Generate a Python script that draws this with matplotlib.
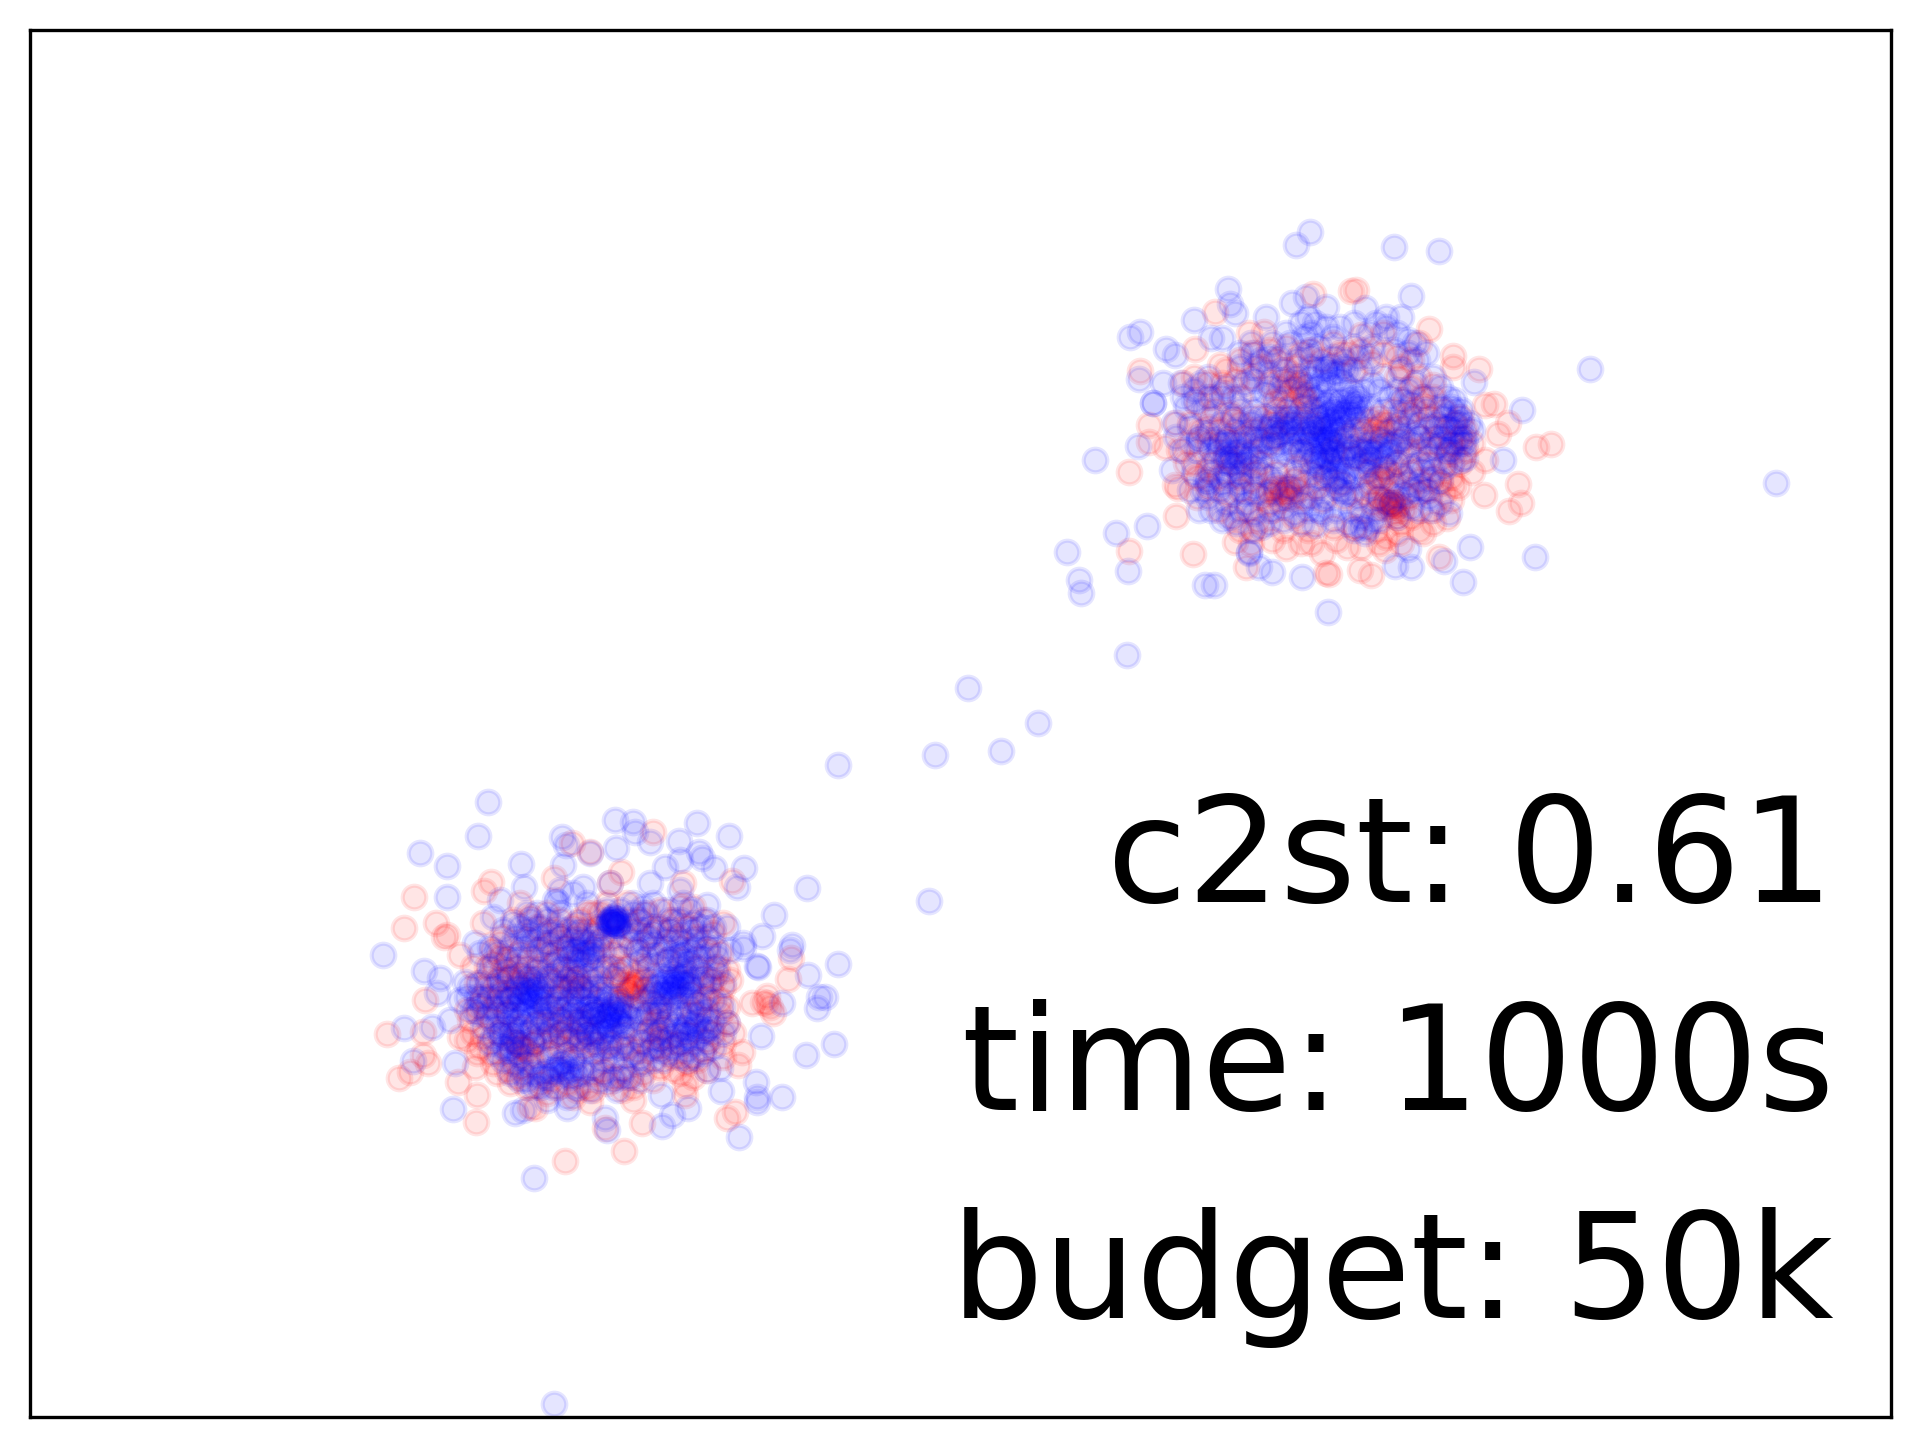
import matplotlib
matplotlib.use('Agg')
import matplotlib.pyplot as plt
import numpy as np

# no ticks on the chart, so the unit is the pixel of the reference
# upper blob values read from a crop, scale (2.8, 3), offset (1040, 210)
upper_red = [
    (490,305),(885,240),(870,243),(765,252),(1088,356),(435,417),(1155,437),(1157,472),(1230,476),(280,483),
    (505,465),(1100,525),(1270,582),(1245,585),(1310,640),(1282,672),(1388,710),(1430,702),(305,645),(305,695),
    (248,785),(378,825),(385,835),(382,918),(248,1023),(428,1032),(1337,823),(1243,855),(1347,880),(1313,902),
    (1155,825),(1150,870),(1210,785),(1245,750),(1140,925),(1072,970),(1118,1040),(800,1090),(810,1093),(895,1080),
    (928,1095),(578,1072),(545,995),(690,1015),(965,1020),(585,370),(628,365),(900,375),(1000,440),(1060,400),
    (985,885),(990,880),(975,895),(1000,920),(965,870),(960,800),(975,790),(945,650),(955,640),(925,630),
    (690,840),(700,850),(675,835),(660,850),(710,500),(735,560),(725,520),(680,560),(700,590),(660,600),
    (1070,560),(1040,530),(1090,620),(1060,680),(1100,800),(1130,760),(350,710),(470,780),(520,850),(610,930),
    (710,920),(830,990),(860,1010),(970,980),(1010,940),(400,520),(450,660),(540,630),(600,790),(770,830),
    (880,480),(840,820),(920,780),(1000,760),(1010,690),(990,600),(560,560),(640,700),(720,770),(1150,700),
    (380,640),(440,860),(650,900),(750,960),(900,900),(1060,850),(1180,620),(820,400),(960,370),(1040,450),
    # second pass over the inner part
    (980,880),(995,890),(985,870),(970,880),(1005,885),(990,905),(960,890),(1015,900),(945,860),(950,815),
    (965,775),(985,810),(1005,790),(940,800),(925,820),(695,830),(705,865),(680,850),(720,840),(655,830),
    (670,870),(640,840),(710,810),(730,545),(745,570),(715,530),(695,515),(670,530),(750,590),(655,575),
    (690,480),(720,470),(935,660),(960,665),(945,620),(975,640),(910,660),(1000,650),(1030,610),(1075,590),
    (1110,650),(1140,730),(1090,760),(1060,720),(1040,790),(1085,840),(1120,820),(1150,800),(1175,760),(1190,720),
    (560,640),(530,610),(500,660),(470,700),(500,800),(440,800),(410,760),(480,560),(430,500),(520,480),
    (560,450),(640,420),(690,410),(760,420),(860,430),(930,460),(1000,500),(620,860),(580,900),(540,920),
    (600,960),(680,960),(760,1000),(820,950),(880,950),(940,960),(1000,970),(1040,920),(1100,900),(620,760),
    (660,790),(730,720),(760,790),(800,800),(880,740),(920,720),(860,680),(600,660),(580,730),(540,760),
    # third pass, filling the gaps
    (590,430),(620,470),(660,450),(730,430),(790,450),(840,430),(900,420),(960,430),(1010,470),(1060,500),
    (1100,560),(1130,600),(1160,640),(1190,660),(1210,700),(470,520),(510,520),(550,510),(590,500),(640,520),
    (440,580),(490,600),(420,640),(470,650),(520,690),(570,680),(610,620),(650,640),(1020,570),(1050,600),
    (1120,680),(1090,700),(1160,730),(1030,720),(1060,810),(1130,850),(1170,830),(1100,940),(1060,960),(1010,1000),
    (950,1000),(900,1010),(790,1030),(730,1000),(650,990),(590,1000),(560,960),(500,900),(470,830),(430,760),
    (390,720),(420,700),(560,840),(590,810),(640,880),(740,860),(790,870),(850,860),(910,850),(930,880),
    (1030,860),(820,720),(880,660),(760,640),(700,640),(660,680),(560,800),(520,740),(480,760),(1180,680),
]
upper_blue = [
    (757,67),(717,106),(992,111),(1118,123),(527,238),(1040,258),(705,278),(745,262),(532,283),(545,310),
    (430,330),(280,366),(252,380),(633,320),(1540,478),(352,418),(378,436),(1350,600),(278,508),(315,578),
    (315,578),(1215,515),(275,708),(155,750),(370,780),(1295,750),(300,948),(212,968),(76,1025),(245,1083),
    (110,1110),(115,1150),(462,1125),(488,1125),(807,1205),(1185,1117),(1205,1010),(1387,1040),(1130,1052),(1040,1070),
    (995,1068),(733,1100),(650,1085),(612,1072),(585,1030),(585,1025),(1030,1018),(1145,908),(1095,900),(445,900),
    (970,320),(1010,320),(800,290),(910,295),(750,320),(730,340),(480,385),(510,385),(590,400),(640,440),
    (760,370),(820,380),(920,370),(970,350),(1050,400),(1055,450),(820,440),(620,450),(510,550),(510,560),
    (570,520),(450,520),(395,520),(345,520),(375,640),(445,680),(445,690),(380,680),(520,700),(560,700),
    (530,760),(520,790),(465,810),(455,840),(575,850),(580,880),(530,920),(600,910),(710,910),(770,945),
    (900,950),(915,955),(1000,920),(1045,840),(1090,860),(1190,745),(1160,570),(1160,600),(1165,640),(1170,680),
    (1210,660),(1140,650),(1075,560),(1120,700),(1060,760),(1020,800),(960,500),(1000,540),(920,440),(860,480),
    # dense centre
    (800,470),(820,490),(780,480),(840,510),(760,500),(810,520),(870,580),(880,590),(860,600),(890,560),
    (820,600),(830,620),(810,630),(840,640),(800,650),(820,660),(790,620),(850,610),(780,640),(830,590),
    (800,580),(770,600),(740,620),(710,640),(690,650),(670,670),(720,660),(650,680),(700,620),(690,600),
    (780,700),(800,720),(770,740),(790,760),(810,750),(830,730),(760,720),(740,750),(820,770),(800,700),
    (750,700),(780,680),(840,690),(810,690),(860,710),(830,800),(850,820),(860,780),(840,840),(870,850),
    (900,720),(930,730),(950,710),(960,740),(920,700),(910,750),(890,740),(970,700),(940,680),(980,720),
    (540,700),(560,740),(520,730),(500,720),(590,680),(620,690),(640,660),(600,720),(490,690),(545,660),
    (700,700),(660,740),(680,780),(640,800),(720,800),(700,540),(660,560),(750,550),(900,620),(960,600),
    (1020,650),(1040,700),(1100,680),(1130,620),(1180,700),(1010,730),(600,600),(560,600),(480,620),(640,850),
    (760,860),(880,800),(930,930),(910,970),(480,900),(520,880),(620,790),(780,830),(990,830),(1060,900),
    # second pass over the centre
    (805,610),(815,645),(795,665),(825,675),(835,605),(785,655),(845,655),(805,685),(775,625),(855,625),
    (870,610),(885,575),(865,565),(895,590),(875,545),(840,570),(815,570),(790,590),(765,650),(750,665),
    (735,640),(720,620),(705,665),(690,625),(675,640),(660,655),(645,650),(735,690),(760,680),(790,735),
    (805,745),(775,755),(760,755),(815,725),(785,775),(800,790),(825,750),(845,745),(865,730),(880,710),
    (895,700),(910,725),(925,745),(940,725),(955,690),(975,730),(990,705),(920,760),(890,770),(840,775),
    (850,800),(820,810),(830,830),(855,850),(800,480),(790,510),(815,465),(835,485),(855,525),(775,530),
    (745,525),(730,590),(765,565),(785,555),(905,540),(925,590),(880,625),(900,665),(870,680),(730,730),
    (710,720),(690,730),(670,700),(620,710),(605,690),(575,670),(555,720),(535,740),(515,755),(505,700),
    (525,680),(545,730),(490,745),(475,720),(530,800),(550,770),(580,760),(1150,590),(1170,620),(1155,660),
    (1180,640),(1130,680),(1110,710),(1090,650),(1150,720),(1190,680),(1120,590),(1140,560),(1040,620),(1060,640),
    (1010,610),(1050,670),(1000,690),(1080,720),(1070,780),(1040,770),(1100,780),(1130,770),(1180,750),(1020,850),
    (1060,830),(1090,810),(1120,880),(1000,860),(870,900),(830,900),(790,910),(750,900),(680,890),(640,900),
    (600,850),(560,820),(500,840),(470,860),(420,840),(560,900),(620,950),(900,920),(940,900),(880,960),
    (750,420),(780,410),(800,350),(740,380),(700,400),(670,440),(640,490),(600,470),(560,470),(520,530),
    (470,500),(430,540),(410,590),(470,560),(540,560),(590,540),(630,550),(880,410),(930,410),(990,420),
    (1030,430),(1010,480),(950,540),(1030,540),(680,480),(720,450),(760,440),(850,450),(890,440),(780,900),
    # third pass, filling the gaps
    (560,430),(600,430),(650,400),(690,370),(770,340),(840,350),(880,340),(940,340),(1000,370),(1030,390),
    (1080,430),(1100,500),(1120,530),(1180,600),(1200,640),(1190,700),(1150,760),(1120,810),(1080,840),(1040,890),
    (980,880),(950,930),(860,940),(820,930),(730,940),(680,930),(640,940),(590,960),(550,940),(510,930),
    (470,820),(430,790),(400,720),(420,650),(460,600),(430,570),(400,560),(600,510),(640,530),(680,510),
    (720,500),(760,470),(850,470),(900,480),(930,520),(980,560),(1040,580),(1010,570),(1080,600),(1050,520),
    (590,620),(630,620),(660,620),(620,650),(590,640),(540,620),(510,640),(470,670),(440,720),(480,790),
    (560,790),(600,770),(660,820),(700,830),(740,820),(780,800),(910,790),(960,770),(1000,760),(950,800),
    (920,830),(890,860),(950,860),(1030,820),(1090,740),(1060,680),(1140,720),(1110,640),(1130,650),(1160,700),
    (1020,680),(1000,640),(980,660),(850,730),(820,700),(790,690),(770,670),(740,670),(710,690),(680,670),
    (650,710),(620,740),(590,740),(560,760),(510,820),(540,850),(600,830),(690,860),(730,880),(800,860),
]
lower_red = [
    (880,157),(635,190),(690,215),(782,277),(582,295),(392,305),(372,333),(163,350),(133,445),(228,430),
    (262,465),(252,470),(300,525),(82,763),(188,755),(205,850),(190,825),(150,875),(118,895),(295,905),
    (352,945),(348,1027),(345,860),(320,780),(195,660),(1115,303),(1090,430),(1292,533),(1285,597),(1175,670),
    (1222,648),(1210,665),(1238,700),(975,915),(975,945),(1125,995),(1100,1015),(845,1030),(820,960),(735,1043),
    (792,1113),(615,1143),(525,985),(690,965),(1135,855),(1145,815),(1090,790),(1080,660),(1220,670),(1230,680),
    (820,620),(815,625),(825,610),(810,615),(830,600),(800,630),(490,805),(480,800),(500,810),(445,595),
    (460,590),(420,530),(400,550),(880,730),(640,600),(650,590),(600,620),(720,480),(700,400),(860,400),
    (940,420),(970,310),(750,310),(480,370),(370,430),(430,470),(340,560),(300,770),(390,820),(410,880),
    (620,780),(600,760),(540,780),(700,880),(730,870),(800,890),(870,810),(940,830),(1010,840),(1040,650),
    (1060,600),(1100,570),(1090,620),(1040,780),(580,450),(620,500),(500,560),(560,680),(680,620),(770,600),
    (850,560),(900,680),(960,790),(440,700),(380,620),(650,930),(560,940),(510,980),(980,440),(1000,380),
    (760,520),(630,700),(790,760),(700,790),(450,820),(1000,700),(1120,760),(660,420),(450,910),(830,850),
    # second pass over the inner part
    (835,585),(805,640),(790,610),(850,630),(825,650),(775,580),(855,600),(470,790),(510,825),(455,780),
    (520,790),(430,570),(470,610),(410,600),(440,540),(395,510),(380,560),(420,490),(890,720),(870,750),
    (905,745),(610,590),(630,620),(660,620),(620,570),(700,600),(730,560),(760,560),(800,560),(880,520),
    (680,450),(720,440),(760,470),(820,450),(890,440),(930,450),(530,440),(500,480),(480,520),(560,520),
    (540,560),(590,540),(650,780),(670,800),(720,810),(760,830),(800,800),(840,780),(900,800),(930,790),
    (980,850),(1030,810),(1060,760),(1080,700),(1070,560),(1050,620),(1020,670),(640,830),(600,800),(560,820),
    (520,850),(480,860),(440,870),(420,760),(400,720),(370,770),(350,820),(330,720),(570,900),(620,910),
    (680,920),(740,910),(790,930),(850,880),(900,860),(960,880),(370,650),(350,610),(1010,470),(1040,510),
    # third pass, filling the gaps
    (460,420),(510,410),(560,400),(600,420),(640,440),(680,400),(740,370),(800,370),(840,420),(900,390),
    (960,380),(1030,420),(1060,460),(1080,520),(1110,600),(1100,680),(1100,730),(1090,830),(1040,870),(1000,890),
    (940,870),(880,900),(820,920),(760,890),(700,930),(640,950),(590,920),(540,910),(500,920),(470,890),
    (400,850),(360,800),(340,760),(320,690),(350,680),(380,700),(410,660),(450,650),(490,590),(530,590),
    (570,600),(590,650),(560,730),(600,720),(660,720),(700,700),(740,640),(780,660),(840,700),(880,670),
    (950,680),(990,640),(1010,560),(970,540),(920,540),(830,510),(780,500),(700,520),(650,540),(600,470),
    (530,510),(470,560),(420,640),(480,740),(530,730),(580,770),(620,740),(680,760),(750,790),(830,810),
    (900,770),(980,760),(1040,720),(1030,590),(950,470),(870,470),(800,420),(720,400),(650,470),(570,490),
]
lower_blue = [
    (385,67),(355,168),(180,220),(262,258),(262,350),(70,525),(192,573),(765,120),(818,125),(825,155),
    (870,187),(605,172),(618,195),(690,220),(768,203),(1012,128),(958,183),(1107,168),(482,252),(492,322),
    (610,255),(1018,215),(1025,235),(960,240),(915,262),(1062,263),(1153,265),(1132,322),(1342,325),(1243,405),
    (1207,468),(1148,505),(1297,495),(1290,510),(1435,552),(1192,557),(1195,560),(1345,585),(1378,650),(1395,652),
    (1372,685),(1423,792),(1337,825),(1202,767),(1188,907),(1190,950),(1190,965),(1265,950),(1083,933),(1080,865),
    (1137,1072),(905,1037),(935,1005),(983,983),(903,945),(740,1050),(735,1015),(622,985),(522,1195),(465,1000),
    (490,990),(280,987),(285,850),(158,843),(133,745),(215,742),(270,720),(230,640),(315,605),(240,595),
    (345,488),(420,360),(590,365),(585,360),(1265,668),(670,320),(750,310),(870,310),(960,330),(850,380),
    (1040,375),(990,390),(1100,440),(1065,505),(1060,560),(1090,610),(1100,730),(1040,870),(980,840),(400,410),
    # small blob at the top of the cluster
    (760,425),(755,430),(765,420),(750,420),(770,435),(760,415),(745,435),(775,425),(755,410),(768,440),
    (762,428),(752,422),(758,436),(772,418),(748,428),(764,408),(742,420),(778,434),
    # dense parts
    (505,640),(515,630),(495,650),(525,650),(510,665),(490,625),(530,625),(480,660),(540,640),(500,610),
    (470,620),(520,600),(550,670),(460,680),(500,690),(540,700),(450,740),(470,750),(430,730),(480,720),
    (420,760),(460,770),(500,760),(440,700),(520,740),(410,700),(750,700),(740,720),(760,680),(730,690),
    (770,720),(720,710),(780,700),(700,700),(690,720),(680,680),(710,740),(750,750),(740,670),(770,650),
    (720,660),(660,700),(650,730),(680,760),(720,770),(790,740),(760,770),(640,690),(630,660),(810,710),
    (940,610),(950,620),(930,600),(960,630),(920,620),(950,590),(970,610),(900,640),(930,640),(980,590),
    (960,560),(910,590),(890,620),(870,650),(850,660),(990,620),(1000,560),(970,520),(940,530),(900,520),
    (990,510),(950,500),(860,530),(880,490),(830,510),(920,480),(670,520),(680,540),(650,510),(700,510),
    (660,550),(630,530),(690,490),(640,480),(610,500),(580,520),(560,490),(520,480),(490,500),(510,420),
    (530,400),(480,440),(450,500),(550,550),(590,570),(950,750),(970,760),(930,770),(1000,750),(1020,740),
    (980,730),(960,790),(920,720),(890,760),(860,750),(850,790),(880,800),(600,870),(620,860),(640,870),
    (580,880),(560,890),(600,850),(630,890),(540,890),(660,860),(500,850),(470,820),(430,800),(400,770),
    (350,650),(330,620),(300,660),(370,680),(400,620),(420,600),(390,560),(360,520),(850,400),(870,440),
    (830,420),(800,470),(660,620),(600,650),(580,700),(600,760),(820,820),(790,870),(730,840),(680,810),
    (910,840),(1000,830),(1060,800),(1060,720),(1030,650),(1070,580),(480,900),(520,920),(450,880),(690,930),
    (770,930),(810,890),(620,950),(560,960),(1020,440),(1060,440),(1000,480),(1110,510),(1150,490),(970,370),
    # second pass over the dense parts
    (512,645),(498,632),(522,612),(488,672),(535,660),(475,640),(455,655),(508,590),(548,620),(562,650),
    (445,640),(530,680),(490,700),(515,715),(470,700),(550,720),(575,680),(440,660),(425,680),(460,720),
    (745,710),(755,690),(735,705),(765,705),(725,725),(775,685),(710,690),(695,680),(685,705),(670,725),
    (745,735),(760,735),(780,725),(795,705),(730,755),(705,760),(690,775),(665,745),(640,720),(655,680),
    (780,670),(800,680),(750,650),(720,640),(700,650),(670,660),(640,640),(620,680),(610,720),(600,690),
    (945,615),(935,625),(955,605),(925,590),(965,590),(940,575),(905,610),(985,610),(975,575),(1000,600),
    (915,640),(945,650),(965,650),(880,640),(860,620),(895,665),(920,665),(880,600),(1010,530),(1025,580),
    (985,545),(955,525),(925,540),(895,555),(865,560),(840,540),(915,500),(965,485),(1005,505),(850,490),
    (670,505),(685,520),(655,525),(700,530),(640,510),(620,515),(715,495),(730,510),(670,480),(650,460),
    (600,470),(570,460),(540,440),(500,450),(465,470),(440,530),(470,540),(510,530),(540,510),(580,550),
    (610,560),(640,570),(680,590),(720,590),(740,560),(780,530),(810,490),(950,765),(975,745),(1005,735),
    (1030,755),(1015,770),(985,770),(945,735),(910,745),(900,780),(875,775),(840,720),(860,700),(890,700),
    (930,700),(960,700),(990,680),(1020,700),(1040,750),(610,880),(590,865),(625,875),(570,870),(650,885),
    (610,845),(550,875),(520,880),(490,880),(460,850),(430,840),(410,820),(390,790),(370,740),(340,690),
    (320,650),(360,610),(380,590),(420,650),(400,680),(520,790),(560,770),(580,800),(620,820),(660,790),
    (700,820),(740,800),(780,800),(800,830),(840,830),(880,840),(920,820),(960,830),(640,760),(560,720),
    (540,760),(470,790),(430,770),(450,800),(1060,660),(1070,530),(1040,470),(960,460),(900,440),(780,390),
    (740,390),(820,370),(880,370),(920,390),(710,440),(650,430),(600,400),(560,420),(500,400),(680,370),
    (640,340),(600,330),(960,420),(1000,430),(1085,680),(1090,760),(1030,820),(720,900),(760,900),(840,900),
    # third pass, filling the gaps
    (430,450),(460,430),(500,470),(540,470),(590,440),(620,450),(660,450),(700,470),(730,470),(800,440),
    (840,450),(880,460),(930,450),(1000,450),(1040,500),(1030,530),(1050,600),(1030,610),(1040,690),(1010,670),
    (980,700),(900,690),(870,700),(820,680),(800,740),(830,760),(790,790),(750,800),(710,790),(660,770),
    (620,770),(590,730),(570,750),(520,770),(490,790),(450,760),(410,740),(380,710),(350,700),(360,660),
    (390,650),(430,620),(450,590),(480,580),(530,570),(570,590),(620,600),(650,590),(700,570),(760,590),
    (780,570),(720,620),(680,640),(650,650),(590,620),(590,670),(1000,790),(1040,790),(980,810),(940,800),
    (900,810),(850,850),(760,840),(700,860),(670,880),(640,840),(570,830),(530,830),(480,830),(440,810),
    (500,900),(540,920),(580,920),(650,920),(730,880),(780,890),(1000,660),(1050,740),(1010,720),(700,620),
    (610,620),(640,610),(560,590),(410,520),(390,500),(440,570),(860,470),(1040,420),(930,420),(820,400),
]
# single points between the blobs, read directly in reference pixels
stray_blue_x = [1127, 968, 1038, 935, 1001, 838, 929, 554, 1776]
stray_blue_y = [655, 688, 723, 755, 751, 765, 901, 1404, 483]

labels = ['c2st: 0.61', 'time: 1000s', 'budget: 50k']
label_y = [902, 1110, 1318]

ur = np.array(upper_red) / [2.8, 3] + [1040, 210]
ub = np.array(upper_blue) / [2.8, 3] + [1040, 210]
lr = np.array(lower_red) / 3 + [360, 780]
lb = np.array(lower_blue) / 3 + [360, 780]
red = np.vstack([ur, lr])
blue = np.vstack([ub, lb, np.column_stack([stray_blue_x, stray_blue_y])])

W, H = 1919, 1446
fig = plt.figure(figsize=(W / 300, H / 300), dpi=300)
x0, x1, y0, y1 = 30, 1891, 30, 1417
ax = fig.add_axes([x0 / W, 1 - y1 / H, (x1 - x0) / W, (y1 - y0) / H])
ax.set_xlim(x0, x1)
ax.set_ylim(y1, y0)
ax.scatter(red[:, 0], red[:, 1], s=32, c='r', alpha=0.1, linewidths=1)
ax.scatter(blue[:, 0], blue[:, 1], s=32, c='b', alpha=0.1, linewidths=1)
for t, y in zip(labels, label_y):
    ax.text(1834, y, t, ha='right', va='baseline', fontsize=35)
ax.set_xticks([])
ax.set_yticks([])
fig.savefig('out.png', dpi=300)
